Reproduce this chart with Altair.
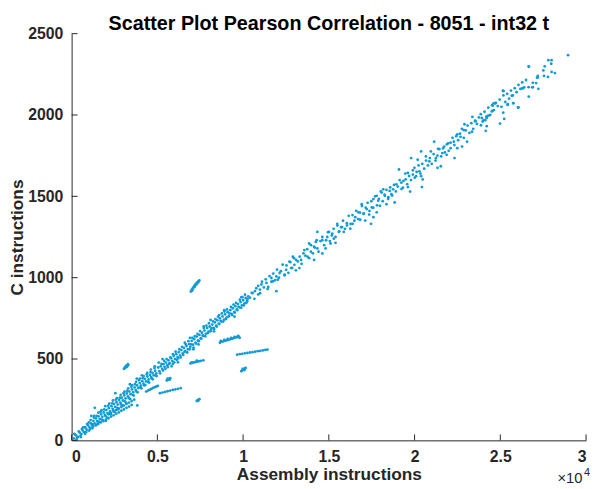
import altair as alt
import pandas as pd

# ---------------- data ----------------
# main band, low part (x < 5000)
low_x = [120, 260, 380, 470, 560, 640, 720, 810, 880, 960, 1040, 1120, 1190, 1270, 1340, 1420, 1490,
         1570, 1640, 1720, 1790, 1870, 1940, 2020, 2090, 2170, 2240, 2320, 2390, 2470, 2540, 2620,
         2690, 2770, 2840, 2920, 2990, 3070, 3140, 3220, 3290, 3370, 3440, 3520, 3590, 3670, 3740,
         3820, 3890, 3970, 4040, 4120, 4190, 4270, 4340, 4420, 4490, 4570, 4640, 4720, 4790, 4870, 4940,
         200, 330, 520, 600, 760, 850, 1000, 1080, 1230, 1300, 1460, 1530, 1680, 1760, 1900, 1980,
         2130, 2200, 2360, 2430, 2580, 2650, 2810, 2880, 3030, 3100, 3250, 3330, 3480, 3560, 3700,
         3780, 3930, 4010, 4150, 4230, 4380, 4460, 4600, 4680, 4830, 4900, 1350, 2550, 3400, 4100,
         1150, 2000, 3800, 3830,
         150, 290, 420, 540, 680, 790, 900, 1020, 1110, 1210, 1320, 1440, 1560, 1610, 1740, 1820,
         1960, 2060, 2190, 2280, 2410, 2500, 2640, 2720, 2860, 2960, 3090, 3180, 3300, 3410, 3530,
         3620, 3760, 3850, 3980, 4070, 4200, 4300, 4410, 4520, 4620, 4730, 4850, 4960]
low_y = [12, 30, 22, 48, 38, 62, 50, 78, 66, 92, 80, 104, 92, 120, 104, 135, 118,
         148, 132, 160, 145, 172, 156, 186, 168, 198, 178, 210, 194, 224, 206, 235,
         220, 248, 232, 262, 245, 276, 258, 288, 270, 300, 284, 314, 296, 326, 310,
         338, 322, 352, 336, 364, 348, 378, 362, 392, 374, 402, 388, 414, 400, 428, 412,
         35, 18, 28, 70, 82, 52, 110, 70, 98, 140, 150, 105, 175, 128, 190, 150,
         212, 165, 228, 185, 250, 200, 262, 222, 290, 240, 305, 260, 330, 280, 345,
         300, 370, 325, 382, 338, 405, 360, 420, 380, 445, 400, 200, 290, 345, 400,
         150, 120, 380, 215,
         40, 8, 55, 20, 80, 40, 100, 60, 125, 75, 150, 95, 170, 115, 185, 125,
         210, 140, 225, 160, 245, 175, 260, 190, 280, 215, 300, 230, 320, 255, 340,
         275, 360, 295, 380, 320, 395, 340, 415, 355, 435, 375, 455, 395]

# main band, middle part (5000 - 10300)
mid_x = [5050, 5120, 5200, 5280, 5350, 5420, 5500, 5580, 5650, 5720, 5800, 5870, 5950, 6030, 6100,
         6180, 6250, 6330, 6400, 6480, 6550, 6620, 6700, 6780, 6850, 6920, 7000, 7080, 7150, 7230,
         7300, 7380, 7450, 7530, 7600, 7680, 7750, 7830, 7900, 7980, 8050, 8130, 8200, 8280, 8350,
         8430, 8500, 8580, 8650, 8730, 8800, 8880, 8950, 9030, 9100, 9180, 9250, 9330, 9400, 9480,
         9550, 9630, 9700, 9780, 9850, 9930, 10000, 10080, 10150, 10230, 10300,
         5300, 5900, 6600, 7100, 7700, 8300, 8900, 9500, 6200, 8600, 7400, 9900, 6900, 8100,
         5080, 5160, 5240, 5330, 5400, 5470, 5540, 5610, 5690, 5760, 5830, 5910, 5980, 6060, 6140,
         6210, 6290, 6360, 6440, 6510, 6590, 6660, 6740, 6810, 6880, 6960, 7040, 7110, 7190, 7260,
         7340, 7410, 7490, 7560, 7640, 7710, 7790, 7860, 7940, 8010, 8090, 8160, 8240, 8310, 8390,
         8460, 8540, 8610, 8690, 8760, 8840, 8910, 8990, 9060, 9140, 9210, 9290, 9360, 9440, 9510,
         9590, 9660, 9740, 9810, 9890, 9960, 10040, 10110, 10190, 10260]
mid_y = [448, 425, 455, 440, 468, 452, 478, 462, 492, 475, 505, 488, 518, 500, 530,
         512, 542, 522, 555, 535, 568, 548, 580, 560, 592, 575, 612, 588, 622, 600,
         638, 615, 648, 628, 662, 642, 675, 655, 690, 668, 700, 680, 712, 692, 725,
         705, 738, 718, 750, 730, 762, 742, 775, 755, 788, 765, 800, 778, 812, 790,
         825, 805, 838, 818, 850, 830, 862, 842, 875, 855, 885,
         500, 470, 600, 560, 700, 670, 800, 760, 480, 770, 590, 880, 630, 740,
         478, 412, 470, 430, 488, 440, 500, 450, 470, 510, 455, 530, 480, 545, 495,
         505, 560, 510, 575, 525, 545, 590, 540, 610, 560, 590, 630, 570, 640, 595,
         655, 610, 672, 625, 645, 690, 640, 705, 660, 720, 670, 690, 732, 685, 745,
         700, 760, 715, 735, 780, 730, 792, 745, 805, 760, 780, 820, 770, 835, 785,
         845, 800, 820, 865, 815, 880, 830, 895, 845, 868]

# main band, upper part (> 10300)
up_x = [10400, 10500, 10690, 10880, 10980, 11070, 11360, 11460, 11650, 11750, 11940, 12030, 12130,
        12420, 12510, 12700, 12800, 12900, 12990, 13090, 13280, 13380, 13570, 13760, 13850, 13950,
        14140, 14140, 14240, 14330, 14330, 14620, 14620, 14810, 14910, 15010, 15100, 15200, 15290,
        15390, 15490, 15580, 15770, 15870, 16060, 16250, 16390, 16540, 16730, 16830, 16920, 17020,
        17120, 17210, 17350, 17460, 17500, 17600, 17600, 17790, 17790, 17880, 17980, 18080, 18170,
        18270, 18360, 18460, 18550, 18650, 18750, 18840, 18940, 19090, 19230, 19320, 19480, 19610,
        19610, 19740, 19800, 19900, 19990, 20090, 20180, 20280, 20380, 20380, 20430, 20470, 20660,
        20860, 20950, 21140, 21240, 21340, 21370, 21530, 21620, 21720, 21870, 21950, 22100, 22290,
        22330, 22490, 22490, 22680, 22770, 22870, 22910, 23060, 23350, 23370, 23540, 23540, 23870,
        23920, 24020, 24120, 24150, 24200, 24210, 24210, 24300, 24500, 24550, 24560, 24610, 24690,
        24720, 24980, 25150, 25170, 25190, 25230, 25420, 25440, 25670, 25750, 25760, 26030, 26060,
        26284, 26320, 26650, 26660, 26660, 26667, 26860, 26900, 26900, 27090, 27140, 27180, 27185,
        27220, 27510, 27550, 27590, 27780, 27800, 27970, 27990, 27990, 28180, 28950, 11940]
up_y = [877, 907, 917, 897, 927, 958, 968, 943, 998, 978, 1008, 988, 1028,
        1018, 1048, 1099, 1059, 1129, 1079, 1109, 1059, 1109, 1170, 1129, 1210, 1160,
        1190, 1109, 1220, 1180, 1281, 1230, 1149, 1180, 1250, 1281, 1210, 1271, 1240,
        1214, 1331, 1281, 1311, 1281, 1321, 1301, 1331, 1372, 1402, 1356, 1452, 1392,
        1351, 1422, 1388, 1331, 1432, 1483, 1372, 1503, 1402, 1473, 1442, 1523, 1543,
        1503, 1452, 1483, 1533, 1513, 1543, 1462, 1574, 1665, 1584, 1553, 1604, 1644,
        1557, 1529, 1735, 1634, 1675, 1624, 1725, 1654, 1776, 1624, 1557, 1604, 1745,
        1715, 1776, 1836, 1735, 1675, 1792, 1685, 1766, 1806, 1755, 1826, 1796, 1836,
        1735, 1881, 1796, 1866, 1806, 1907, 1943, 1836, 1897, 1988, 1961, 1962, 1937,
        1982, 1968, 1968, 1903, 1982, 1931, 1988, 1996, 2022, 2026, 2058, 2072, 2073,
        2072, 1947, 2149, 2014, 2147, 1976, 2062, 2066, 2119, 2073, 2072, 2046, 2046,
        2163, 2165, 2171, 2113, 2299, 2297, 2170, 2198, 2171, 2196, 2230, 2230, 2240,
        2161, 2274, 2240, 2299, 2234, 2337, 2315, 2337, 2265, 2258, 2368, 917]

# extra band points, upper part
up2_x = [10550, 10660, 10770, 10880, 10990, 11100, 11210, 11320, 11430, 11540, 11650, 11760, 11870,
         11980, 12090, 12200, 12310, 12420, 12530, 12640, 12750, 12860, 12970, 13080, 13190, 13300,
         13410, 13520, 13630, 13740, 13850, 13960, 14070, 14180, 14290, 14400, 14510, 14620, 14730,
         14840, 14950, 15060, 15170, 15280, 15390, 15500, 15610, 15720, 15830, 15940, 16050, 16160,
         16270, 16380, 16490, 16600, 16710, 16820, 16930, 17040, 17150, 17260, 17370, 17480, 17590,
         17700, 17810, 17920, 18030, 18140, 18250, 18360, 18470, 18580, 18690, 18800, 18910, 19020,
         19130, 19240, 19350, 19460, 19570, 19680, 19790, 19900, 20010, 20120, 20230, 20340, 20450,
         20560, 20670, 20780, 20890, 21000, 21110, 21220, 21330, 21440, 21550, 21660, 21770, 21880,
         21990, 22100, 22210, 22320, 22430, 22540, 22650, 22760, 22870, 22980, 23090, 23200, 23310,
         23420, 23530, 23640, 23750, 23860, 23970, 24080, 24190, 24300, 24410, 24520, 24630, 24740,
         24850, 24960, 25070, 25180, 25290, 25400, 25510, 25620, 25730, 25840, 25950, 26060, 26170,
         26280, 26390, 26500]
up2_y = [905, 870, 935, 950, 905, 975, 940, 990, 930, 1010, 975, 1025, 985,
         1050, 1000, 1040, 1080, 1015, 1075, 1030, 1095, 1060, 1120, 1045, 1100, 1130,
         1085, 1150, 1135, 1175, 1120, 1200, 1150, 1185, 1230, 1160, 1225, 1250, 1200,
         1230, 1280, 1225, 1260, 1300, 1250, 1320, 1285, 1310, 1350, 1300, 1335, 1380,
         1330, 1385, 1350, 1410, 1360, 1400, 1440, 1395, 1430, 1460, 1410, 1470, 1430,
         1500, 1445, 1485, 1530, 1470, 1510, 1540, 1495, 1555, 1505, 1570, 1530, 1560,
         1600, 1545, 1595, 1640, 1575, 1625, 1600, 1660, 1615, 1650, 1690, 1640, 1700,
         1670, 1720, 1690, 1735, 1700, 1760, 1720, 1750, 1790, 1745, 1795, 1770, 1820,
         1780, 1830, 1860, 1815, 1870, 1845, 1885, 1915, 1860, 1905, 1935, 1890, 1950,
         1915, 1965, 1945, 1985, 2005, 1960, 2020, 1990, 2045, 2000, 2060, 2030, 2075,
         2055, 2095, 2050, 2120, 2080, 2130, 2100, 2150, 2120, 2165, 2140, 2185, 2160,
         2200, 2170, 2215]

# branches below the band near the origin
branch_x = [1250, 1400, 1550, 1700, 1850, 2000, 2150, 2300, 2450, 2600, 2750, 2900, 3050, 3200,
            3350, 3500, 2150, 2300, 2450, 2600, 2750, 2900, 3050, 3200, 3350, 3500, 3650]
branch_y = [85, 92, 100, 110, 118, 128, 136, 146, 154, 164, 172, 182, 190, 200,
            208, 218, 160, 168, 178, 186, 196, 205, 214, 224, 232, 242, 250]

# separated clusters
clus_x = [3050, 3100, 3150, 3200, 3250, 3300, 3120, 3230, 3280, 3180,
          8650, 8750, 8850, 8950, 9050, 9150, 9250, 9350, 9450, 9550, 9650, 9750, 8700, 8900,
          9100, 9300, 9500, 9700, 9800,
          9650, 9800, 9950, 10100, 10250, 10400, 10550, 10700, 10850, 11000, 11150, 11300, 11420,
          9900, 9950, 10000, 10050, 10100, 10150, 9980, 10080,
          6930, 7030, 7130, 7230, 7330, 7430, 7530, 7680, 7000, 7300,
          5550, 5620, 5680, 5750, 5600, 5720,
          4350, 4450, 4550, 4650, 4750, 4850, 4950, 5030,
          5150, 5300, 5450, 5600, 5750, 5900, 6050, 6200, 6360,
          7300, 7350, 7400, 7450, 7380,
          6950, 7000, 7050, 7100, 7150, 7200, 7250, 7300, 7350, 7400, 7450, 7080, 7180, 7280,
          7380, 7020]
clus_y = [440, 447, 450, 455, 458, 463, 445, 452, 468, 460,
          600, 606, 609, 612, 615, 618, 621, 625, 628, 632, 634, 637, 612, 618,
          624, 630, 636, 642, 630,
          527, 530, 532, 535, 537, 540, 542, 545, 548, 550, 553, 556, 558,
          425, 430, 435, 438, 442, 445, 440, 432,
          473, 476, 479, 481, 484, 486, 489, 492, 480, 490,
          368, 374, 378, 382, 380, 372,
          300, 306, 311, 316, 322, 327, 331, 335,
          290, 294, 298, 302, 306, 310, 313, 317, 321,
          242, 246, 250, 253, 244,
          915, 925, 933, 940, 948, 955, 962, 968, 973, 978, 983, 930, 945, 958,
          970, 920]

x_ticks = [0, 5000, 10000, 15000, 20000, 25000, 30000]
y_ticks = [0, 500, 1000, 1500, 2000, 2500]

# ---------------- chart ----------------
all_x = low_x + mid_x + up_x + up2_x + branch_x + clus_x
all_y = low_y + mid_y + up_y + up2_y + branch_y + clus_y
pts = pd.DataFrame({"asm": all_x, "c": all_y})

W, H = 521.5, 412.3
AX = "#262626"
FONT = "Liberation Sans"
DOT = "#119bd6"

xs = alt.Scale(domain=[0, 30000], nice=False, zero=False)
ys = alt.Scale(domain=[0, 2500], nice=False, zero=False)
xaxis = alt.Axis(values=x_ticks, labelExpr="datum.value / 10000 + ''",
                 title="Assembly instructions", tickSize=0, labelPadding=8,
                 titlePadding=2, grid=False)
yaxis = alt.Axis(values=y_ticks, format="d", title="C instructions", tickSize=0,
                 labelPadding=9, titlePadding=1, grid=False)

points = alt.Chart(pts).mark_circle(size=8, opacity=1, color=DOT).encode(
    x=alt.X("asm:Q", scale=xs, axis=xaxis),
    y=alt.Y("c:Q", scale=ys, axis=yaxis),
)

xt = alt.Chart(pd.DataFrame({"asm": x_ticks})).mark_rule(color=AX, strokeWidth=1).encode(
    x=alt.X("asm:Q", scale=xs, axis=xaxis), y=alt.value(H), y2=alt.value(H - 6))
yt = alt.Chart(pd.DataFrame({"c": y_ticks})).mark_rule(color=AX, strokeWidth=1).encode(
    y=alt.Y("c:Q", scale=ys, axis=yaxis), x=alt.value(0), x2=alt.value(6))

expo = alt.Chart(pd.DataFrame({"t": ["×10"]})).mark_text(
    align="left", baseline="alphabetic", fontSize=15, font=FONT, color=AX
).encode(text="t:N", x=alt.value(492.5), y=alt.value(456))
expo4 = alt.Chart(pd.DataFrame({"t": ["4"]})).mark_text(
    align="left", baseline="alphabetic", fontSize=11, font=FONT, color=AX
).encode(text="t:N", x=alt.value(519.5), y=alt.value(448))

chart = alt.layer(points, xt, yt, expo, expo4).properties(
    width=W, height=H,
    title=alt.TitleParams("Scatter Plot Pearson Correlation - 8051 - int32 t",
                          fontSize=20, fontWeight="bold", font=FONT, color="#000000",
                          anchor="middle", offset=1, dy=9),
    autosize=alt.AutoSizeParams(type="none"),
    padding={"left": 64.5, "top": 22.7, "right": 4, "bottom": 46},
).configure_view(stroke=None).configure_axis(
    domainColor=AX, domainWidth=1, labelFont=FONT, labelFontSize=16, labelFontWeight="bold",
    labelColor=AX, titleFont=FONT, titleFontSize=17.5, titleFontWeight="bold", titleColor=AX,
)

chart.save("out.html", embed_options={"renderer": "svg", "actions": False})
